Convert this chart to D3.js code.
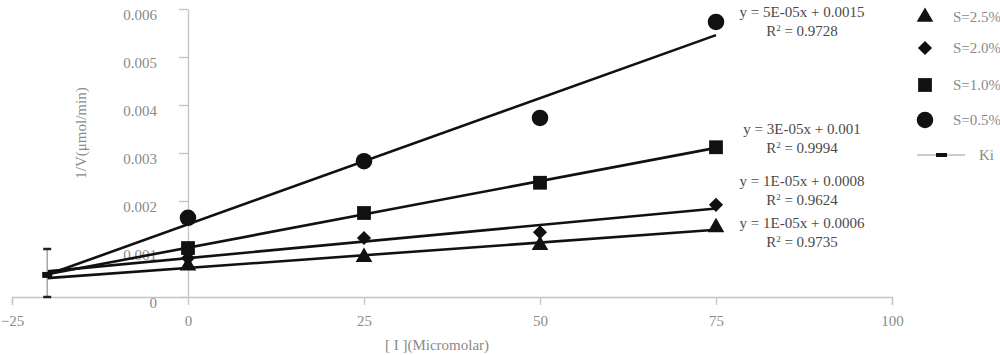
<!DOCTYPE html>
<html>
<head>
<meta charset="utf-8">
<script src="https://cdn.jsdelivr.net/npm/d3@7"></script>
<style>
  body { margin: 0; background: #fff; }
  text { font-family: "Liberation Serif", "DejaVu Serif", serif; }
  .axis path, .axis line { stroke: #c4c4c4; stroke-width: 1.3; }
  .axis text { fill: #8a8a8a; font-size: 15px; }
</style>
</head>
<body>
<div id="chart"></div>
<script>
// data
var inhibitor = [0, 25, 50, 75];
var seriesNames = ["S=2.5%", "S=2.0%", "S=1.0%", "S=0.5%"];
var s25 = [0.00065, 0.00083, 0.00108, 0.00145];
var s20 = [0.00081, 0.00123, 0.00135, 0.00192];
var s10 = [0.00102, 0.00175, 0.00238, 0.00312];
var s05 = [0.00165, 0.00283, 0.00373, 0.00573];
var eqText = ["y = 1E-05x + 0.0006", "y = 1E-05x + 0.0008", "y = 3E-05x + 0.001", "y = 5E-05x + 0.0015"];
var r2Text = ["0.9735", "0.9624", "0.9994", "0.9728"];
var kiX = [-20];
var kiY = [0.00046];
var kiLow = [0];
var kiHigh = [0.001];
var xTicks = [-25, 0, 25, 50, 75, 100];
var yTicks = [0, 0.001, 0.002, 0.003, 0.004, 0.005, 0.006];
var trendFrom = -20;

var width = 1000, height = 355;
var svg = d3.select("#chart").append("svg")
  .attr("width", width).attr("height", height);

var x = d3.scaleLinear().domain([-25, 100]).range([12, 892]);
var y = d3.scaleLinear().domain([0, 0.006]).range([297, 9]);

// axes
svg.append("g")
  .attr("class", "axis")
  .attr("transform", "translate(0," + y(0) + ")")
  .call(d3.axisBottom(x).tickValues(xTicks).tickSize(8).tickSizeOuter(8).tickPadding(10)
    .tickFormat(d3.format("d")));

var yAxis = svg.append("g")
  .attr("class", "axis")
  .attr("transform", "translate(" + x(0) + ",0)")
  .call(d3.axisLeft(y).tickValues(yTicks).tickSize(9).tickSizeOuter(0).tickPadding(22)
    .tickFormat(function(d) { return d === 0 ? "0" : d3.format(".3f")(d); }));
yAxis.selectAll("text").attr("dy", "0.7em");

// axis titles
svg.append("text")
  .attr("transform", "translate(86,133) rotate(-90)")
  .attr("text-anchor", "middle")
  .style("font-size", "15px").style("fill", "#8a8a8a")
  .text("1/V(\u03bcmol/min)");

svg.append("text")
  .attr("x", 437).attr("y", 350)
  .attr("text-anchor", "middle")
  .style("font-size", "15px").style("fill", "#8a8a8a")
  .text("[ I ](Micromolar)");

var series = [s25, s20, s10, s05];
var symbols = [
  { type: d3.symbolTriangle, size: 120, rot: 0 },
  { type: d3.symbolSquare, size: 100, rot: 45 },
  { type: d3.symbolSquare, size: 190, rot: 0 },
  { type: d3.symbolCircle, size: 215, rot: 0 }
];

// least squares fit, extended back like the spreadsheet trendline
function fit(xs, ys) {
  var mx = d3.mean(xs), my = d3.mean(ys);
  var sxy = d3.sum(xs, function(v, i) { return (v - mx) * (ys[i] - my); });
  var sxx = d3.sum(xs, function(v) { return (v - mx) * (v - mx); });
  var b = sxy / sxx;
  return { b: b, a: my - b * mx };
}

var lineGen = d3.line().x(function(d) { return x(d[0]); }).y(function(d) { return y(d[1]); });

series.forEach(function(vals) {
  var f = fit(inhibitor, vals);
  var x1 = d3.max(inhibitor);
  svg.append("path")
    .attr("d", lineGen([[trendFrom, f.a + f.b * trendFrom], [x1, f.a + f.b * x1]]))
    .attr("fill", "none").attr("stroke", "#111").attr("stroke-width", 2.6);
});

series.forEach(function(vals, si) {
  var sym = symbols[si];
  svg.append("g").selectAll("path")
    .data(vals)
    .enter().append("path")
    .attr("d", d3.symbol().type(sym.type).size(sym.size))
    .attr("transform", function(d, i) {
      return "translate(" + x(inhibitor[i]) + "," + y(d) + ") rotate(" + sym.rot + ")";
    })
    .attr("fill", "#111");
});

// Ki point with error bar
var ki = svg.append("g");
kiX.forEach(function(kx, i) {
  ki.append("line").attr("x1", x(kx)).attr("x2", x(kx))
    .attr("y1", y(kiLow[i])).attr("y2", y(kiHigh[i]))
    .attr("stroke", "#999").attr("stroke-width", 1.3);
  [kiLow[i], kiHigh[i]].forEach(function(v) {
    ki.append("line").attr("x1", x(kx) - 4).attr("x2", x(kx) + 4)
      .attr("y1", y(v)).attr("y2", y(v))
      .attr("stroke", "#222").attr("stroke-width", 2.5);
  });
  ki.append("rect").attr("x", x(kx) - 5).attr("y", y(kiY[i]) - 3)
    .attr("width", 10).attr("height", 6).attr("fill", "#111");
});

// equation labels
var eqY = [223, 181, 129, 12];
eqText.forEach(function(t, i) {
  svg.append("text").attr("x", 802).attr("y", eqY[i] + 5)
    .attr("text-anchor", "middle")
    .style("font-size", "15px").style("fill", "#4a4a4a")
    .text(t);
  var r = svg.append("text").attr("x", 802).attr("y", eqY[i] + 24)
    .attr("text-anchor", "middle")
    .style("font-size", "15px").style("fill", "#4a4a4a");
  r.append("tspan").text("R");
  r.append("tspan").attr("dy", -5).style("font-size", "9px").text("2");
  r.append("tspan").attr("dy", 5).text(" = " + r2Text[i]);
});

// legend
var legY = [17, 48, 85, 120];
seriesNames.forEach(function(name, i) {
  var sym = symbols[i];
  svg.append("path")
    .attr("d", d3.symbol().type(sym.type).size(sym.size))
    .attr("transform", "translate(925," + legY[i] + ") rotate(" + sym.rot + ")")
    .attr("fill", "#111");
  svg.append("text").attr("x", 953).attr("y", legY[i] + 5)
    .style("font-size", "15px").style("fill", "#8a8a8a")
    .text(name);
});
svg.append("line").attr("x1", 917).attr("x2", 965).attr("y1", 155).attr("y2", 155)
  .attr("stroke", "#999").attr("stroke-width", 1.2);
svg.append("rect").attr("x", 936).attr("y", 153).attr("width", 11).attr("height", 4).attr("fill", "#111");
svg.append("text").attr("x", 979).attr("y", 160)
  .style("font-size", "15px").style("fill", "#8a8a8a")
  .text("Ki");
</script>
</body>
</html>
